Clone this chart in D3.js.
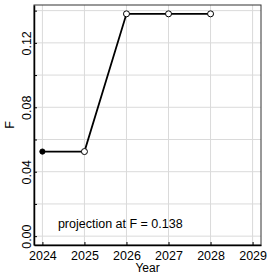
<!DOCTYPE html>
<html><head><meta charset="utf-8">
<script src="https://cdn.jsdelivr.net/npm/d3@7"></script>
<style>body{margin:0;background:#fff}svg{display:block}text{font-family:"Liberation Sans",Arial,sans-serif;fill:#000}</style>
</head><body><svg id="c" width="269" height="273"></svg>
<script>
const years = [2024, 2025, 2026, 2027, 2028];
const fValues = [0.0525, 0.0525, 0.138, 0.138, 0.138];
const projected = [false, true, true, true, true];
const xTicks = [2024, 2025, 2026, 2027, 2028, 2029];
const yTicks = [0.00, 0.02, 0.04, 0.06, 0.08, 0.10, 0.12, 0.14];
const yLabelTicks = [0.00, 0.04, 0.08, 0.12];
const annotation = "projection at F = 0.138";

const svg = d3.select("#c");
const L = 34, R = 261, T = 5, B = 245;
const x = d3.scaleLinear().domain([2023.8, 2029.2]).range([L, R]);
const y = d3.scaleLinear().domain([-0.0055, 0.1435]).range([B, T]);

// grid
svg.append("g").selectAll("line").data(xTicks).join("line")
  .attr("x1", d => x(d)).attr("x2", d => x(d)).attr("y1", T).attr("y2", B)
  .attr("stroke", "#dadada").attr("stroke-width", 1);
svg.append("g").selectAll("line").data(yTicks).join("line")
  .attr("y1", d => y(d)).attr("y2", d => y(d)).attr("x1", L).attr("x2", R)
  .attr("stroke", "#dadada").attr("stroke-width", 1);

// box
svg.append("rect").attr("x", L).attr("y", T).attr("width", R - L).attr("height", B - T)
  .attr("fill", "none").attr("stroke", "#333").attr("stroke-width", 1);

// axes with inward ticks
const xAxis = d3.axisBottom(x).tickValues(xTicks).tickFormat(d3.format("d")).tickSizeInner(-3).tickSizeOuter(0).tickPadding(6);
const gx = svg.append("g").attr("transform", `translate(0,${B})`).call(xAxis);
gx.select(".domain").attr("stroke", "#000").attr("stroke-width", 1.5);
gx.selectAll(".tick line").attr("stroke", "#000");
gx.selectAll("text").attr("font-size", 12.5).attr("font-family", "Liberation Sans, Arial, sans-serif").attr("fill", "#000");

const yAxis = d3.axisLeft(y).tickValues(yTicks).tickFormat(d => yLabelTicks.some(v => Math.abs(v - d) < 1e-9) ? d3.format(".2f")(d) : "").tickSizeInner(-3).tickSizeOuter(0);
const gy = svg.append("g").attr("transform", `translate(${L},0)`).call(yAxis);
gy.select(".domain").attr("stroke", "#000").attr("stroke-width", 1.5);
gy.selectAll(".tick line").attr("stroke", "#000");
gy.selectAll("text").attr("font-size", 12.5).attr("font-family", "Liberation Sans, Arial, sans-serif").attr("fill", "#000")
  .attr("text-anchor", "middle").attr("dy", 0).attr("x", 0)
  .attr("transform", "translate(-3,0) rotate(-90)");

// axis titles
svg.append("text").attr("x", (L + R) / 2).attr("y", 271.5).attr("text-anchor", "middle").attr("font-size", 12).text("Year");
svg.append("text").attr("transform", `translate(14,${(T + B) / 2}) rotate(-90)`).attr("text-anchor", "middle").attr("font-size", 12.5).text("F");

// line
const line = d3.line().x((d, i) => x(years[i])).y(d => y(d));
svg.append("path").datum(fValues).attr("d", line).attr("fill", "none").attr("stroke", "#000").attr("stroke-width", 1.8);

// points
svg.append("g").selectAll("circle").data(fValues).join("circle")
  .attr("cx", (d, i) => x(years[i])).attr("cy", d => y(d))
  .attr("r", (d, i) => projected[i] ? 3 : 2.6)
  .attr("fill", (d, i) => projected[i] ? "#fff" : "#000")
  .attr("stroke", "#000").attr("stroke-width", 1);

// annotation
svg.append("text").attr("x", x(2024) + 15.5).attr("y", y(0) - 8.5).attr("font-size", 12.5).text(annotation);
</script></body></html>
